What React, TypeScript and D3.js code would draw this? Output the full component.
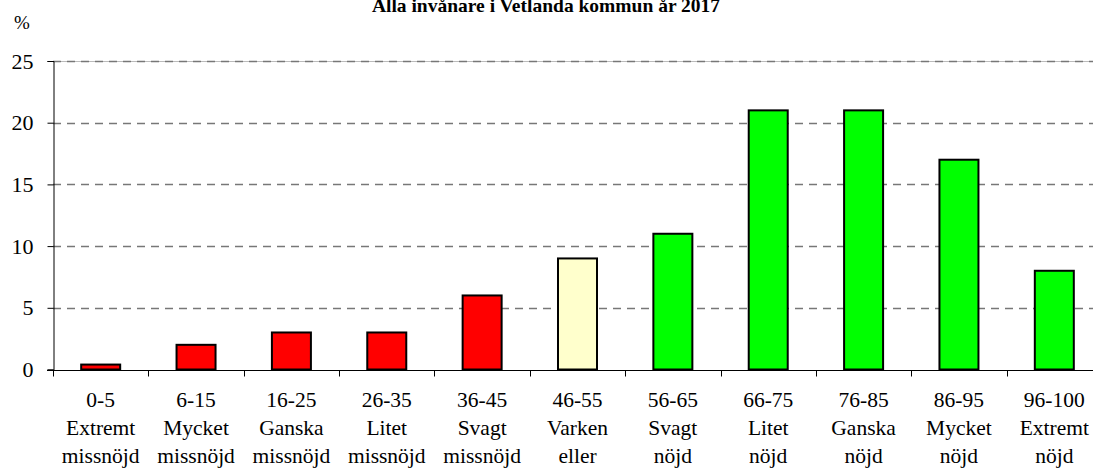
import React, { useEffect, useRef } from "react";
import * as d3 from "d3";

// data
const ranges = ["0-5", "6-15", "16-25", "26-35", "36-45", "46-55", "56-65", "66-75", "76-85", "86-95", "96-100"];
const labelMid = ["Extremt", "Mycket", "Ganska", "Litet", "Svagt", "Varken", "Svagt", "Litet", "Ganska", "Mycket", "Extremt"];
const labelLow = ["missnöjd", "missnöjd", "missnöjd", "missnöjd", "missnöjd", "eller", "nöjd", "nöjd", "nöjd", "nöjd", "nöjd"];
const values = [0.4, 2, 3, 3, 6, 9, 11, 21, 21, 17, 8];
const groups = ["neg", "neg", "neg", "neg", "neg", "neu", "pos", "pos", "pos", "pos", "pos"];
const yTicks = [0, 5, 10, 15, 20, 25];
const title = "Alla invånare i Vetlanda kommun år 2017";

const W = 1093;
const H = 471;
const FONT = "Liberation Serif, Tinos, Times New Roman, Times, DejaVu Serif, serif";

function App() {
  const svgRef = useRef<SVGSVGElement>(null);

  useEffect(() => {
    const svg = d3.select(svgRef.current);
    svg.selectAll("*").remove();

    // the plot runs past the right edge of the picture, as in the original
    const x = d3.scaleBand().domain(ranges).range([53, 1102]).paddingInner(0).paddingOuter(0);
    const y = d3.scaleLinear().domain([0, 25]).range([369.5, 61]);
    const color = d3.scaleOrdinal<string>().domain(["neg", "neu", "pos"]).range(["#ff0000", "#ffffcc", "#00ff00"]);

    // title is cut by the top edge in the original too
    svg.append("text")
      .attr("x", 546).attr("y", 12)
      .attr("text-anchor", "middle")
      .style("font-family", FONT).attr("font-weight", "bold").attr("font-size", 19.5)
      .text(title);

    svg.append("text")
      .attr("x", 22).attr("y", 29)
      .attr("text-anchor", "middle")
      .style("font-family", FONT).attr("font-size", 19)
      .text("%");

    // plot area top border
    svg.append("line")
      .attr("x1", 53).attr("x2", W)
      .attr("y1", Math.round(y(25)) + 0.5).attr("y2", Math.round(y(25)) + 0.5)
      .attr("stroke", "#bbb");

    // gridlines
    svg.append("g")
      .selectAll("line")
      .data(yTicks.filter(t => t > 0))
      .join("line")
      .attr("x1", 53).attr("x2", W)
      .attr("y1", d => Math.round(y(d)) + 0.5).attr("y2", d => Math.round(y(d)) + 0.5)
      .attr("stroke", "#777").attr("stroke-width", 1.3)
      .attr("stroke-dasharray", "8,6");

    // bars
    svg.append("g")
      .selectAll("rect")
      .data(values)
      .join("rect")
      .attr("x", (d, i) => x(ranges[i])! + x.bandwidth() / 2 - 19.5)
      .attr("width", 39)
      .attr("y", d => y(d))
      .attr("height", d => y(0) - y(d))
      .attr("fill", (d, i) => color(groups[i]))
      .attr("stroke", "#000").attr("stroke-width", 2);

    // y axis
    const yAxis = d3.axisLeft(y).tickValues(yTicks).tickSize(6).tickPadding(14);
    const gy = svg.append("g").attr("transform", "translate(53.5,0)").call(yAxis);
    gy.attr("font-family", null).attr("font-size", null);
    gy.select(".domain").attr("stroke", "#000");
    gy.selectAll("text").style("font-family", FONT).attr("font-size", 22).attr("fill", "#000");

    // x axis
    const gx = svg.append("g").attr("transform", `translate(0,${Math.round(y(0)) + 0.5})`);
    gx.append("line").attr("x1", 47).attr("x2", W).attr("stroke", "#000");
    gx.selectAll(".tk")
      .data(ranges)
      .join("line")
      .attr("class", "tk")
      .attr("x1", d => Math.round(x(d)!) + 0.5).attr("x2", d => Math.round(x(d)!) + 0.5)
      .attr("y1", 0).attr("y2", 6)
      .attr("stroke", "#000");

    const lab = gx.selectAll(".lab")
      .data(ranges)
      .join("text")
      .attr("class", "lab")
      .attr("text-anchor", "middle")
      .style("font-family", FONT).attr("font-size", 21.5)
      .attr("x", d => x(d)! + x.bandwidth() / 2);
    lab.append("tspan").attr("x", d => x(d)! + x.bandwidth() / 2).attr("y", 36).text(d => d);
    lab.append("tspan").attr("x", d => x(d)! + x.bandwidth() / 2).attr("y", 64).text((d, i) => labelMid[i]);
    lab.append("tspan").attr("x", d => x(d)! + x.bandwidth() / 2).attr("y", 92).text((d, i) => labelLow[i]);
  }, []);

  return (
    <svg ref={svgRef} width={W} height={H}
      style={{ position: "absolute", left: 0, top: 0, background: "#fff" }} />
  );
}

export default App;
